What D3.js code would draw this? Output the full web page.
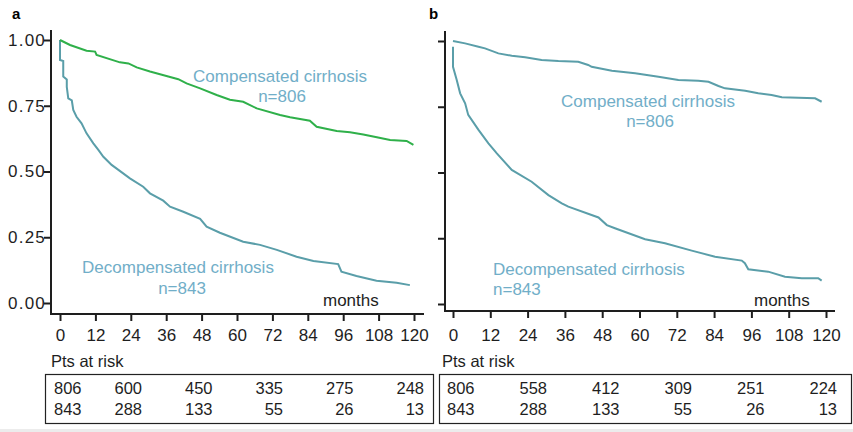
<!DOCTYPE html>
<html>
<head>
<meta charset="utf-8">
<script src="https://cdn.jsdelivr.net/npm/d3@7"></script>
<style>
  html, body { margin: 0; padding: 0; background: #fff; }
  svg { display: block; font-family: "Liberation Sans", Arial, sans-serif; }
</style>
</head>
<body>
<svg id="chart" width="853" height="432"></svg>
<script>
// ---------------- data ----------------
const timeTicks = [0, 12, 24, 36, 48, 60, 72, 84, 96, 108, 120];
const survTicks = [0, 0.25, 0.5, 0.75, 1];
const riskTimes = [0, 24, 48, 72, 96, 120];

// Panel a
const compA = [[0,1],[3.4,0.981],[9,0.959],[11.9,0.956],[12.4,0.943],[20.3,0.915],[23.2,0.911],[26,0.896],[30.5,0.880],[36.7,0.861],[40.1,0.851],[42.9,0.835],[47.5,0.816],[53.1,0.791],[57.6,0.773],[62.1,0.765],[66.7,0.740],[74.6,0.715],[78,0.706],[84.7,0.693],[87,0.670],[93.8,0.654],[98.3,0.649],[102.8,0.641],[107.4,0.630],[111.9,0.620],[117.5,0.616],[119.8,0.601]];
const decompA = [[0,1],[0,0.924],[1.1,0.92],[1.1,0.861],[2.3,0.85],[2.3,0.822],[2.8,0.778],[4.0,0.77],[4.5,0.734],[5.6,0.708],[7.3,0.683],[9,0.645],[11.3,0.607],[13,0.582],[14.7,0.556],[17.5,0.525],[19.8,0.506],[23.7,0.474],[28.2,0.442],[30.5,0.417],[35,0.389],[37.3,0.366],[41.8,0.347],[47.5,0.320],[49.7,0.290],[54.2,0.267],[62.1,0.233],[67.8,0.221],[73.5,0.202],[80.2,0.176],[85.9,0.160],[94.3,0.148],[95.4,0.119],[100.5,0.103],[107.3,0.085],[114.1,0.077],[118.6,0.068]];
const riskCompA = [806, 600, 450, 335, 275, 248];
const riskDecompA = [843, 288, 133, 55, 26, 13];

// Panel b
const compB = [[0,1],[3.9,0.991],[8.2,0.978],[10.3,0.972],[14.6,0.953],[18.9,0.944],[23.2,0.938],[28.5,0.928],[33.9,0.924],[40.3,0.921],[43.5,0.909],[44.6,0.902],[51.1,0.887],[58.6,0.877],[66.1,0.864],[72.5,0.852],[78.9,0.849],[82.2,0.845],[85.4,0.829],[87.5,0.820],[94,0.811],[98.2,0.801],[102.5,0.795],[105.8,0.786],[116.5,0.782],[118.6,0.769]];
const decompB = [[0,0.978],[0,0.902],[1.2,0.852],[2.3,0.801],[3.9,0.763],[4.9,0.719],[8.2,0.662],[11.4,0.611],[14.1,0.573],[18.9,0.51],[25.3,0.465],[30.7,0.414],[35,0.383],[37.1,0.37],[46.8,0.329],[49.5,0.30],[52.1,0.288],[61.8,0.246],[68.2,0.231],[76.8,0.203],[84.3,0.18],[92.9,0.165],[93.9,0.155],[95,0.132],[101.4,0.123],[106.8,0.104],[112.2,0.098],[117.5,0.098],[118.6,0.089]];
const riskCompB = [806, 558, 412, 309, 251, 224];
const riskDecompB = [843, 288, 133, 55, 26, 13];

// ---------------- styles ----------------
const GREEN = "#2fb04a";
const TEAL = "#5a9ea9";
const LABEL = "#71aec8";
const INK = "#1e1e1e";

const panels = [
  {
    letter: "a", letterX: 12,
    xRange: [60, 414], yRange: [303, 40],
    axisX: 51, axisTop: 30, axisY: 314, axisRight: 424,
    showYLabels: true,
    series: [{data: decompA, color: TEAL}, {data: compA, color: GREEN}],
    labels: [
      {t: "Compensated cirrhosis", x: 280, y: 82, anchor: "middle", c: LABEL},
      {t: "n=806", x: 282, y: 102, anchor: "middle", c: LABEL},
      {t: "Decompensated cirrhosis", x: 178, y: 273, anchor: "middle", c: LABEL},
      {t: "n=843", x: 182, y: 294, anchor: "middle", c: LABEL},
      {t: "months", x: 323, y: 306, anchor: "start", c: INK}
    ],
    ptsX: 51,
    box: [45, 374, 388, 49],
    firstColX: 54,
    colRange: [142, 424],
    risk: [riskCompA, riskDecompA]
  },
  {
    letter: "b", letterX: 429,
    xRange: [453, 826], yRange: [304, 41],
    axisX: 445, axisTop: 31, axisY: 311, axisRight: 835,
    showYLabels: false,
    series: [{data: decompB, color: TEAL}, {data: compB, color: TEAL}],
    labels: [
      {t: "Compensated cirrhosis", x: 648, y: 107, anchor: "middle", c: LABEL},
      {t: "n=806", x: 650, y: 127, anchor: "middle", c: LABEL},
      {t: "Decompensated cirrhosis", x: 493, y: 275, anchor: "start", c: LABEL},
      {t: "n=843", x: 493, y: 295, anchor: "start", c: LABEL},
      {t: "months", x: 754, y: 306, anchor: "start", c: INK}
    ],
    ptsX: 442,
    box: [439, 374, 412, 49],
    firstColX: 447,
    colRange: [547, 837],
    risk: [riskCompB, riskDecompB]
  }
];

const svg = d3.select("#chart");

// faint bottom strip
svg.append("rect").attr("x", 0).attr("y", 429).attr("width", 853).attr("height", 3).attr("fill", "#ececec");

panels.forEach(p => {
  const x = d3.scaleLinear().domain([0, 120]).range(p.xRange);
  const y = d3.scaleLinear().domain([0, 1]).range(p.yRange);
  const g = svg.append("g");

  // panel letter
  g.append("text").attr("x", p.letterX).attr("y", 19)
    .attr("font-size", 15).attr("font-weight", "bold").attr("fill", "#000").text(p.letter);

  // y axis
  const yAxis = d3.axisLeft(y).tickValues(survTicks)
    .tickFormat(p.showYLabels ? d3.format(".2f") : "")
    .tickSize(7).tickPadding(-2).tickSizeOuter(0);
  const yg = g.append("g").attr("transform", `translate(${p.axisX},0)`).call(yAxis);
  yg.select(".domain").remove();
  yg.selectAll(".tick line").attr("stroke", INK).attr("stroke-width", 2);
  yg.selectAll(".tick text").attr("font-size", 17).attr("fill", INK)
    .attr("letter-spacing", "1.2px").attr("font-family", "Liberation Sans, Arial, sans-serif");
  g.append("line").attr("x1", p.axisX).attr("x2", p.axisX)
    .attr("y1", p.axisTop).attr("y2", p.axisY + 1)
    .attr("stroke", INK).attr("stroke-width", 2);

  // x axis
  const xAxis = d3.axisBottom(x).tickValues(timeTicks).tickSize(7).tickPadding(8).tickSizeOuter(0);
  const xg = g.append("g").attr("transform", `translate(0,${p.axisY})`).call(xAxis);
  xg.select(".domain").remove();
  xg.selectAll(".tick line").attr("stroke", INK).attr("stroke-width", 2);
  xg.selectAll(".tick text").attr("font-size", 17).attr("fill", INK)
    .attr("font-family", "Liberation Sans, Arial, sans-serif")
    .attr("y", 341 - p.axisY).attr("dy", 0);
  g.append("line").attr("x1", p.axisX - 1).attr("x2", p.axisRight)
    .attr("y1", p.axisY).attr("y2", p.axisY)
    .attr("stroke", INK).attr("stroke-width", 2);

  // curves
  const line = d3.line().x(d => x(d[0])).y(d => y(d[1])).curve(d3.curveLinear);
  p.series.forEach(s => {
    g.append("path").datum(s.data).attr("d", line)
      .attr("fill", "none").attr("stroke", s.color).attr("stroke-width", 2)
      .attr("stroke-linejoin", "miter");
  });

  // annotations
  p.labels.forEach(l => {
    g.append("text").attr("x", l.x).attr("y", l.y).attr("text-anchor", l.anchor)
      .attr("font-size", 17).attr("fill", l.c).text(l.t);
  });

  // risk table
  g.append("text").attr("x", p.ptsX).attr("y", 367).attr("font-size", 16.5).attr("fill", INK).text("Pts at risk");
  g.append("rect").attr("x", p.box[0] + 0.5).attr("y", p.box[1] + 0.5)
    .attr("width", p.box[2]).attr("height", p.box[3])
    .attr("fill", "none").attr("stroke", "#222").attr("stroke-width", 1.2);
  const col = d3.scaleLinear().domain([riskTimes[1], riskTimes[riskTimes.length - 1]]).range(p.colRange);
  const rowY = [394, 415];
  p.risk.forEach((row, ri) => {
    row.forEach((v, i) => {
      const first = i === 0;
      g.append("text")
        .attr("x", first ? p.firstColX : col(riskTimes[i]))
        .attr("y", rowY[ri])
        .attr("text-anchor", first ? "start" : "end")
        .attr("font-size", 16.5).attr("fill", INK).text(v);
    });
  });
});
</script>
</body>
</html>
